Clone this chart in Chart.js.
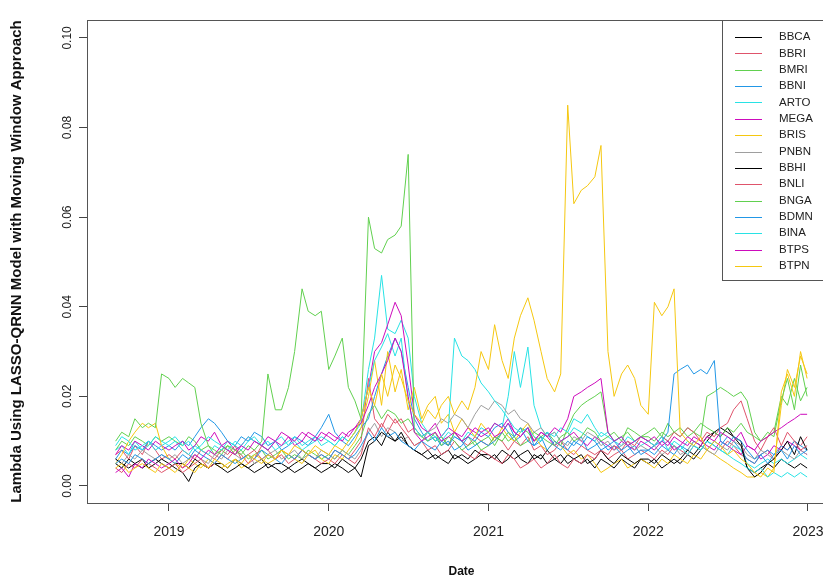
<!DOCTYPE html>
<html>
<head>
<meta charset="utf-8">
<title>Lambda LASSO-QRNN</title>
<script src="https://cdn.jsdelivr.net/npm/chart.js@4.4.1/dist/chart.umd.min.js"></script>
<style>
  html, body { margin: 0; padding: 0; background: #fff; overflow: hidden; }
  #wrap { width: 840px; height: 579px; }
</style>
</head>
<body>
<div id="wrap"><canvas id="lambdaChart"></canvas></div>
<script>
// sampling dates (twice a month)
const dates = [
  '2018-09-01','2018-09-15','2018-10-01','2018-10-15','2018-11-01','2018-11-15','2018-12-01','2018-12-15',
  '2019-01-01','2019-01-15','2019-02-01','2019-02-15','2019-03-01','2019-03-15','2019-04-01','2019-04-15','2019-05-01','2019-05-15','2019-06-01','2019-06-15',
  '2019-07-01','2019-07-15','2019-08-01','2019-08-15','2019-09-01','2019-09-15','2019-10-01','2019-10-15','2019-11-01','2019-11-15','2019-12-01','2019-12-15',
  '2020-01-01','2020-01-15','2020-02-01','2020-02-15','2020-03-01','2020-03-15','2020-04-01','2020-04-15','2020-05-01','2020-05-15','2020-06-01','2020-06-15',
  '2020-07-01','2020-07-15','2020-08-01','2020-08-15','2020-09-01','2020-09-15','2020-10-01','2020-10-15','2020-11-01','2020-11-15','2020-12-01','2020-12-15',
  '2021-01-01','2021-01-15','2021-02-01','2021-02-15','2021-03-01','2021-03-15','2021-04-01','2021-04-15','2021-05-01','2021-05-15','2021-06-01','2021-06-15',
  '2021-07-01','2021-07-15','2021-08-01','2021-08-15','2021-09-01','2021-09-15','2021-10-01','2021-10-15','2021-11-01','2021-11-15','2021-12-01','2021-12-15',
  '2022-01-01','2022-01-15','2022-02-01','2022-02-15','2022-03-01','2022-03-15','2022-04-01','2022-04-15','2022-05-01','2022-05-15','2022-06-01','2022-06-15',
  '2022-07-01','2022-07-15','2022-08-01','2022-08-15','2022-09-01','2022-09-15','2022-10-01','2022-10-15','2022-11-01','2022-11-15','2022-12-01','2022-12-15',
  '2022-12-30'
];

const yearTicks = [2019, 2020, 2021, 2022, 2023];
const lambdaTicks = [0, 0.02, 0.04, 0.06, 0.08, 0.10];

// one row per year: 2018 (Sep-Dec), 2019, 2020, 2021, 2022
const BBCA = [
  0.005,0.004,0.006,0.005,0.004,0.005,0.006,0.005,
  0.004,0.005,0.005,0.004,0.006,0.005,0.004,0.005,0.005,0.004,0.006,0.005,0.004,0.005,0.006,0.004,0.005,0.005,0.004,0.005,0.006,0.005,0.004,0.005,
  0.005,0.004,0.006,0.005,0.004,0.006,0.010,0.011,0.009,0.012,0.010,0.011,0.009,0.008,0.007,0.006,0.007,0.006,0.005,0.007,0.006,0.005,0.006,0.007,
  0.006,0.007,0.005,0.006,0.008,0.006,0.005,0.007,0.006,0.008,0.006,0.005,0.007,0.006,0.005,0.006,0.004,0.006,0.005,0.004,0.006,0.005,0.004,0.006,
  0.005,0.006,0.004,0.005,0.006,0.005,0.007,0.006,0.008,0.010,0.012,0.011,0.013,0.011,0.010,0.004,0.003,0.004,0.005,0.004,0.006,0.005,0.004,0.005,0.004
];
const BBRI = [
  0.007,0.008,0.006,0.009,0.007,0.010,0.008,0.006,
  0.007,0.006,0.008,0.007,0.006,0.008,0.007,0.006,0.008,0.007,0.009,0.006,0.007,0.008,0.006,0.007,0.006,0.008,0.007,0.006,0.008,0.007,0.006,0.007,
  0.006,0.008,0.007,0.006,0.008,0.010,0.024,0.015,0.013,0.016,0.014,0.015,0.012,0.013,0.011,0.012,0.010,0.011,0.009,0.012,0.010,0.009,0.011,0.010,
  0.009,0.011,0.010,0.008,0.010,0.009,0.011,0.008,0.009,0.007,0.008,0.010,0.008,0.007,0.009,0.008,0.007,0.008,0.006,0.007,0.008,0.006,0.007,0.008,
  0.007,0.006,0.008,0.007,0.009,0.008,0.007,0.009,0.008,0.010,0.009,0.008,0.010,0.009,0.007,0.006,0.005,0.007,0.008,0.006,0.009,0.008,0.010,0.009,0.011
];
const BMRI = [
  0.008,0.010,0.009,0.011,0.010,0.009,0.011,0.010,
  0.011,0.010,0.009,0.011,0.010,0.008,0.009,0.007,0.008,0.009,0.007,0.008,0.006,0.007,0.008,0.006,0.007,0.008,0.006,0.007,0.006,0.008,0.007,0.006,
  0.007,0.006,0.008,0.007,0.009,0.011,0.016,0.018,0.015,0.017,0.016,0.014,0.015,0.013,0.011,0.012,0.010,0.011,0.009,0.012,0.010,0.011,0.009,0.010,
  0.011,0.009,0.012,0.010,0.011,0.013,0.012,0.010,0.011,0.012,0.010,0.009,0.013,0.016,0.018,0.019,0.020,0.021,0.012,0.010,0.011,0.012,0.010,0.011,
  0.011,0.010,0.012,0.011,0.012,0.011,0.013,0.012,0.011,0.020,0.021,0.022,0.021,0.020,0.021,0.019,0.012,0.010,0.011,0.012,0.020,0.018,0.024,0.019,0.022
];
const BBNI = [
  0.006,0.008,0.007,0.009,0.008,0.010,0.009,0.008,
  0.009,0.008,0.010,0.009,0.011,0.013,0.015,0.014,0.012,0.010,0.009,0.011,0.010,0.012,0.011,0.009,0.010,0.008,0.009,0.011,0.010,0.009,0.011,0.013,
  0.016,0.012,0.010,0.009,0.011,0.013,0.015,0.020,0.025,0.029,0.033,0.030,0.022,0.015,0.012,0.010,0.011,0.009,0.010,0.008,0.009,0.011,0.010,0.012,
  0.011,0.013,0.014,0.012,0.010,0.011,0.013,0.009,0.010,0.012,0.009,0.008,0.010,0.009,0.011,0.008,0.009,0.010,0.008,0.009,0.007,0.008,0.009,0.007,
  0.008,0.007,0.009,0.008,0.007,0.009,0.008,0.010,0.009,0.008,0.010,0.009,0.011,0.010,0.008,0.006,0.005,0.007,0.008,0.007,0.009,0.008,0.010,0.009,0.008
];
const ARTO = [
  0.008,0.009,0.007,0.010,0.008,0.009,0.011,0.010,
  0.009,0.010,0.008,0.007,0.009,0.008,0.007,0.009,0.008,0.010,0.009,0.008,0.010,0.011,0.009,0.010,0.008,0.009,0.010,0.011,0.009,0.010,0.011,0.009,
  0.010,0.009,0.011,0.010,0.012,0.014,0.026,0.033,0.047,0.035,0.034,0.037,0.033,0.020,0.014,0.012,0.011,0.010,0.012,0.011,0.010,0.012,0.011,0.013,
  0.012,0.014,0.013,0.020,0.030,0.022,0.031,0.018,0.013,0.011,0.012,0.010,0.011,0.013,0.012,0.011,0.010,0.012,0.011,0.010,0.009,0.011,0.010,0.009,
  0.010,0.009,0.011,0.010,0.009,0.008,0.010,0.009,0.008,0.010,0.009,0.008,0.007,0.009,0.008,0.005,0.004,0.005,0.006,0.005,0.006,0.005,0.006,0.007,0.006
];
const MEGA = [
  0.007,0.009,0.008,0.010,0.009,0.008,0.010,0.009,
  0.008,0.009,0.010,0.008,0.009,0.011,0.010,0.012,0.009,0.010,0.008,0.009,0.011,0.010,0.009,0.011,0.010,0.012,0.011,0.009,0.010,0.012,0.011,0.010,
  0.012,0.011,0.010,0.012,0.013,0.015,0.022,0.030,0.032,0.036,0.041,0.038,0.027,0.016,0.013,0.012,0.014,0.011,0.013,0.012,0.011,0.013,0.012,0.011,
  0.012,0.014,0.013,0.015,0.012,0.011,0.013,0.010,0.012,0.011,0.009,0.010,0.011,0.012,0.010,0.009,0.011,0.010,0.009,0.008,0.010,0.009,0.008,0.010,
  0.009,0.008,0.010,0.009,0.011,0.010,0.009,0.011,0.010,0.009,0.008,0.010,0.009,0.008,0.007,0.009,0.008,0.006,0.007,0.009,0.008,0.010,0.009,0.008,0.007
];
const BRIS = [
  0.005,0.007,0.010,0.012,0.014,0.013,0.014,0.009,
  0.006,0.005,0.004,0.006,0.005,0.004,0.006,0.005,0.004,0.005,0.006,0.004,0.005,0.007,0.006,0.005,0.006,0.008,0.007,0.006,0.005,0.007,0.008,0.006,
  0.005,0.007,0.006,0.008,0.010,0.013,0.020,0.028,0.018,0.030,0.021,0.026,0.017,0.022,0.015,0.018,0.020,0.014,0.016,0.012,0.015,0.013,0.011,0.014,
  0.012,0.010,0.013,0.011,0.010,0.012,0.014,0.011,0.009,0.008,0.010,0.009,0.007,0.008,0.006,0.007,0.005,0.003,0.004,0.005,0.006,0.004,0.005,0.006,
  0.005,0.004,0.006,0.005,0.007,0.006,0.005,0.007,0.006,0.008,0.007,0.006,0.005,0.004,0.003,0.002,0.002,0.003,0.002,0.004,0.018,0.026,0.022,0.029,0.025
];
const PNBN = [
  0.006,0.005,0.007,0.006,0.008,0.007,0.006,0.007,
  0.006,0.007,0.005,0.006,0.007,0.006,0.005,0.007,0.006,0.008,0.007,0.006,0.007,0.005,0.006,0.007,0.008,0.006,0.007,0.008,0.006,0.007,0.006,0.008,
  0.007,0.006,0.008,0.007,0.006,0.008,0.012,0.014,0.011,0.013,0.012,0.010,0.011,0.009,0.010,0.012,0.013,0.015,0.014,0.016,0.015,0.013,0.016,0.018,
  0.017,0.019,0.018,0.016,0.017,0.015,0.014,0.012,0.013,0.011,0.012,0.010,0.009,0.011,0.010,0.012,0.011,0.009,0.010,0.008,0.009,0.010,0.008,0.009,
  0.008,0.009,0.007,0.008,0.009,0.007,0.008,0.010,0.009,0.008,0.007,0.009,0.008,0.010,0.009,0.007,0.006,0.008,0.007,0.006,0.008,0.007,0.006,0.008,0.007
];
const BBHI = [
  0.006,0.005,0.004,0.005,0.006,0.004,0.005,0.006,
  0.005,0.004,0.003,0.001,0.004,0.005,0.004,0.005,0.004,0.003,0.004,0.005,0.004,0.003,0.004,0.005,0.004,0.003,0.004,0.003,0.004,0.005,0.004,0.003,
  0.004,0.005,0.004,0.003,0.004,0.002,0.009,0.010,0.012,0.011,0.010,0.012,0.009,0.008,0.007,0.008,0.006,0.007,0.008,0.006,0.007,0.006,0.008,0.007,
  0.007,0.006,0.008,0.007,0.006,0.007,0.008,0.006,0.007,0.005,0.006,0.007,0.005,0.006,0.007,0.005,0.006,0.008,0.006,0.005,0.007,0.006,0.005,0.006,
  0.006,0.005,0.007,0.006,0.005,0.006,0.008,0.007,0.009,0.011,0.012,0.013,0.012,0.011,0.009,0.004,0.002,0.003,0.005,0.006,0.008,0.010,0.007,0.011,0.008
];
const BNLI = [
  0.004,0.003,0.005,0.004,0.006,0.005,0.004,0.003,
  0.004,0.005,0.003,0.004,0.005,0.006,0.004,0.005,0.007,0.006,0.008,0.007,0.005,0.006,0.009,0.008,0.006,0.007,0.005,0.006,0.008,0.007,0.006,0.005,
  0.006,0.005,0.007,0.006,0.005,0.007,0.013,0.011,0.014,0.012,0.015,0.013,0.011,0.009,0.010,0.008,0.009,0.007,0.008,0.010,0.008,0.007,0.006,0.008,
  0.007,0.006,0.005,0.007,0.006,0.004,0.005,0.006,0.004,0.005,0.007,0.005,0.004,0.006,0.005,0.007,0.006,0.008,0.007,0.009,0.008,0.010,0.009,0.011,
  0.010,0.009,0.011,0.010,0.012,0.011,0.013,0.012,0.010,0.012,0.011,0.013,0.014,0.017,0.019,0.015,0.010,0.008,0.011,0.013,0.009,0.012,0.010,0.008,0.009
];
const BNGA = [
  0.010,0.012,0.011,0.015,0.013,0.014,0.013,0.025,
  0.024,0.022,0.024,0.023,0.022,0.014,0.009,0.008,0.007,0.009,0.008,0.007,0.009,0.008,0.010,0.025,0.017,0.017,0.022,0.030,0.044,0.039,0.038,0.039,
  0.026,0.029,0.033,0.022,0.019,0.015,0.060,0.053,0.052,0.055,0.056,0.058,0.074,0.012,0.011,0.010,0.012,0.009,0.011,0.010,0.008,0.009,0.010,0.008,
  0.009,0.011,0.010,0.012,0.011,0.009,0.010,0.012,0.011,0.010,0.009,0.011,0.012,0.010,0.011,0.013,0.012,0.010,0.011,0.012,0.010,0.013,0.012,0.011,
  0.012,0.013,0.011,0.014,0.012,0.013,0.011,0.012,0.014,0.013,0.012,0.011,0.013,0.012,0.014,0.012,0.011,0.010,0.012,0.011,0.019,0.024,0.017,0.027,0.020
];
const BDMN = [
  0.005,0.006,0.005,0.007,0.006,0.005,0.006,0.007,
  0.006,0.005,0.007,0.006,0.008,0.007,0.006,0.005,0.007,0.006,0.005,0.006,0.007,0.006,0.008,0.007,0.006,0.005,0.007,0.006,0.008,0.007,0.006,0.007,
  0.006,0.008,0.007,0.006,0.007,0.009,0.012,0.010,0.013,0.011,0.012,0.010,0.009,0.008,0.010,0.009,0.008,0.010,0.009,0.011,0.010,0.008,0.009,0.010,
  0.009,0.010,0.012,0.014,0.011,0.013,0.010,0.009,0.011,0.008,0.010,0.009,0.008,0.010,0.009,0.011,0.010,0.008,0.009,0.010,0.008,0.009,0.007,0.008,
  0.008,0.009,0.010,0.012,0.025,0.026,0.027,0.025,0.026,0.025,0.028,0.010,0.009,0.011,0.010,0.008,0.006,0.007,0.005,0.007,0.008,0.006,0.009,0.007,0.008
];
const BINA = [
  0.009,0.011,0.010,0.008,0.009,0.010,0.008,0.009,
  0.010,0.011,0.009,0.010,0.008,0.009,0.011,0.010,0.009,0.008,0.010,0.009,0.011,0.010,0.009,0.008,0.010,0.011,0.009,0.010,0.008,0.009,0.010,0.011,
  0.010,0.009,0.011,0.010,0.012,0.015,0.022,0.028,0.031,0.034,0.029,0.033,0.019,0.013,0.011,0.012,0.010,0.011,0.013,0.033,0.029,0.028,0.026,0.023,
  0.021,0.019,0.017,0.015,0.013,0.012,0.013,0.011,0.010,0.012,0.011,0.013,0.012,0.015,0.014,0.016,0.013,0.011,0.012,0.010,0.011,0.009,0.010,0.011,
  0.010,0.009,0.011,0.008,0.010,0.009,0.007,0.009,0.008,0.010,0.009,0.008,0.007,0.006,0.005,0.004,0.003,0.004,0.002,0.003,0.002,0.003,0.002,0.003,0.002
];
const BTPS = [
  0.003,0.004,0.002,0.005,0.004,0.006,0.005,0.004,
  0.005,0.006,0.004,0.005,0.007,0.006,0.008,0.007,0.009,0.008,0.007,0.009,0.008,0.010,0.009,0.008,0.010,0.009,0.011,0.010,0.012,0.011,0.010,0.012,
  0.011,0.010,0.012,0.011,0.013,0.014,0.018,0.022,0.025,0.028,0.033,0.030,0.020,0.012,0.010,0.011,0.012,0.010,0.011,0.012,0.010,0.011,0.013,0.012,
  0.013,0.011,0.012,0.014,0.012,0.011,0.013,0.010,0.012,0.011,0.013,0.012,0.015,0.020,0.021,0.022,0.023,0.024,0.012,0.010,0.011,0.009,0.010,0.011,
  0.010,0.011,0.009,0.010,0.008,0.009,0.011,0.010,0.009,0.011,0.010,0.012,0.011,0.010,0.012,0.009,0.008,0.010,0.011,0.012,0.013,0.014,0.015,0.016,0.016
];
const BTPN = [
  0.004,0.005,0.003,0.004,0.005,0.004,0.003,0.005,
  0.004,0.003,0.005,0.004,0.003,0.005,0.004,0.006,0.005,0.004,0.006,0.005,0.007,0.006,0.005,0.007,0.006,0.008,0.007,0.009,0.008,0.007,0.009,0.008,
  0.007,0.009,0.008,0.010,0.012,0.015,0.022,0.018,0.025,0.020,0.027,0.024,0.019,0.016,0.014,0.017,0.015,0.018,0.020,0.016,0.019,0.017,0.022,0.030,
  0.026,0.036,0.028,0.024,0.033,0.038,0.042,0.037,0.030,0.024,0.021,0.025,0.085,0.063,0.066,0.067,0.069,0.076,0.030,0.020,0.025,0.027,0.024,0.018,
  0.016,0.041,0.038,0.040,0.044,0.012,0.010,0.009,0.011,0.008,0.010,0.009,0.007,0.008,0.006,0.005,0.003,0.002,0.004,0.003,0.021,0.025,0.020,0.030,0.024
];

const seriesNames = ['BBCA', 'BBRI', 'BMRI', 'BBNI', 'ARTO', 'MEGA', 'BRIS', 'PNBN',
                     'BBHI', 'BNLI', 'BNGA', 'BDMN', 'BINA', 'BTPS', 'BTPN'];
const seriesValues = [BBCA, BBRI, BMRI, BBNI, ARTO, MEGA, BRIS, PNBN,
                      BBHI, BNLI, BNGA, BDMN, BINA, BTPS, BTPN];
// R default palette, recycled
const palette = ['#000000', '#DF536B', '#61D04F', '#2297E6', '#28E2E5', '#CD0BBC', '#F5C710', '#9E9E9E'];

function toYear(s) {
  const [y, m, d] = s.split('-').map(Number);
  const start = Date.UTC(y, 0, 1);
  return y + (Date.UTC(y, m - 1, d) - start) / (Date.UTC(y + 1, 0, 1) - start);
}

const xs = dates.map(toYear);
const FONT = "'Liberation Sans', Arial, sans-serif";

// plot frame plus an R-style legend in the top right corner
const frameAndLegend = {
  id: 'frameAndLegend',
  afterDatasetsDraw(chart) {
    const { ctx, chartArea: a } = chart;
    ctx.save();
    ctx.strokeStyle = '#555';
    ctx.lineWidth = 1;
    ctx.strokeRect(a.left + 0.5, a.top + 0.5, a.right - a.left, a.bottom - a.top);

    const w = 114, h = 260;
    const lx = a.right - w, ly = a.top;
    ctx.fillStyle = '#fff';
    ctx.fillRect(lx, ly, w, h);
    ctx.strokeRect(lx + 0.5, ly + 0.5, w, h);
    ctx.font = '11.5px ' + FONT;
    ctx.textBaseline = 'middle';
    ctx.textAlign = 'left';
    chart.data.datasets.forEach((ds, i) => {
      const y = ly + 17 + i * 16.36;
      ctx.strokeStyle = ds.borderColor;
      ctx.beginPath();
      ctx.moveTo(lx + 13, Math.round(y) + 0.5);
      ctx.lineTo(lx + 40, Math.round(y) + 0.5);
      ctx.stroke();
      ctx.fillStyle = '#222';
      ctx.fillText(ds.label, lx + 57, y);
    });
    ctx.restore();
  }
};

new Chart(document.getElementById('lambdaChart'), {
  type: 'line',
  data: {
    datasets: seriesNames.map((name, i) => ({
      label: name,
      data: xs.map((x, j) => ({ x: x, y: seriesValues[i][j] })),
      borderColor: palette[i % palette.length],
      borderWidth: 1,
      pointRadius: 0,
      tension: 0,
      order: seriesNames.length - i
    }))
  },
  options: {
    responsive: true,
    maintainAspectRatio: false,
    animation: false,
    layout: { padding: { top: 20, right: 4, left: 0, bottom: 0 } },
    plugins: { legend: { display: false }, tooltip: { enabled: false } },
    scales: {
      x: {
        type: 'linear',
        min: 2018.4867,
        max: 2023.1753,
        afterBuildTicks: s => { s.ticks = yearTicks.map(v => ({ value: v })); },
        afterFit: s => { s.height = 76; },
        grid: { drawOnChartArea: false, drawTicks: true, tickLength: 8, color: '#444' },
        border: { display: false },
        ticks: { color: '#222', font: { family: FONT, size: 14 }, padding: 13, maxRotation: 0, callback: v => String(v) },
        title: { display: true, text: 'Date', color: '#111', font: { family: FONT, size: 12, weight: 'bold' }, padding: { top: 0, bottom: 0 } }
      },
      y: {
        type: 'linear',
        min: -0.0038,
        max: 0.104,
        afterBuildTicks: s => { s.ticks = lambdaTicks.map(v => ({ value: v })); },
        afterFit: s => { s.width = 87; },
        grid: { drawOnChartArea: false, drawTicks: true, tickLength: 8, color: '#444' },
        border: { display: false },
        ticks: { color: '#222', font: { family: FONT, size: 12 }, padding: 0, minRotation: 90, maxRotation: 90, crossAlign: 'center', autoSkip: false, callback: v => v.toFixed(2) },
        title: { display: true, text: 'Lambda Using LASSO-QRNN Model with Moving Window Approach', color: '#111', font: { family: FONT, size: 15, weight: 'bold' }, padding: { top: 8, bottom: 0 } }
      }
    }
  },
  plugins: [frameAndLegend]
});
</script>
</body>
</html>
